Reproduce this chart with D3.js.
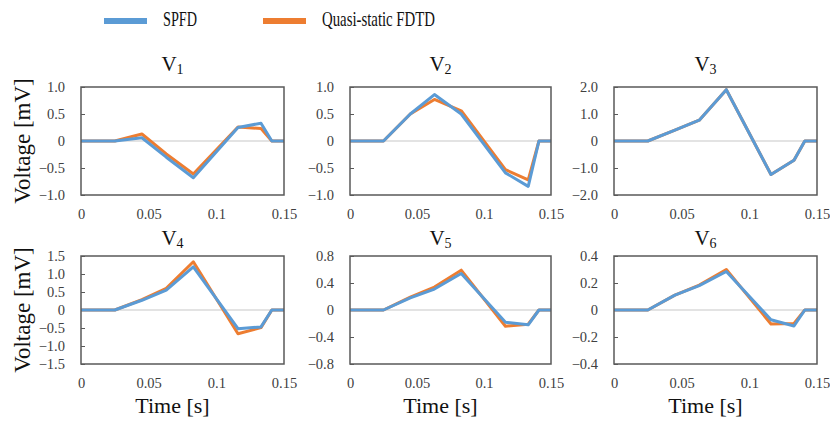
<!DOCTYPE html>
<html>
<head>
<meta charset="utf-8">
<script src="https://cdnjs.cloudflare.com/ajax/libs/d3/7.8.5/d3.min.js"></script>
<style>
  body { margin: 0; background: #fff; }
  text { font-family: "Liberation Serif", "DejaVu Serif", serif; }
</style>
</head>
<body>
<div class="chart"></div>
<script>
// sample times (s), shared by all six panels
var time = [0, 0.025, 0.045, 0.063, 0.083, 0.116, 0.133, 0.141, 0.15];

// SPFD voltages (mV)
var spfd1 = [0, 0, 0.06, -0.3, -0.68, 0.25, 0.33, 0, 0];
var spfd2 = [0, 0, 0.5, 0.86, 0.5, -0.59, -0.84, 0, 0];
var spfd3 = [0, 0, 0.4, 0.77, 1.9, -1.24, -0.71, 0, 0];
var spfd4 = [0, 0, 0.27, 0.55, 1.2, -0.52, -0.47, 0, 0];
var spfd5 = [0, 0, 0.18, 0.31, 0.54, -0.18, -0.22, 0, 0];
var spfd6 = [0, 0, 0.11, 0.18, 0.285, -0.072, -0.118, 0, 0];

// Quasi-static FDTD voltages (mV)
var fdtd1 = [0, 0, 0.13, -0.24, -0.61, 0.26, 0.23, 0, 0];
var fdtd2 = [0, 0, 0.5, 0.77, 0.56, -0.53, -0.72, 0, 0];
var fdtd3 = [0, 0, 0.4, 0.77, 1.9, -1.24, -0.71, 0, 0];
var fdtd4 = [0, 0, 0.29, 0.6, 1.34, -0.66, -0.49, 0, 0];
var fdtd5 = [0, 0, 0.19, 0.34, 0.59, -0.24, -0.21, 0, 0];
var fdtd6 = [0, 0, 0.11, 0.185, 0.3, -0.104, -0.1, 0, 0];

// axis ticks
var xTicks = [0, 0.05, 0.1, 0.15];
var yTicks1 = [-1, -0.5, 0, 0.5, 1];
var yTicks3 = [-2, -1, 0, 1, 2];
var yTicks4 = [-1.5, -1, -0.5, 0, 0.5, 1, 1.5];
var yTicks5 = [-0.8, -0.4, 0, 0.4, 0.8];
var yTicks6 = [-0.4, -0.2, 0, 0.2, 0.4];

var titles = ["1", "2", "3", "4", "5", "6"];
var seriesNames = ["SPFD", "Quasi-static FDTD"];

var panels = [
  {sub: titles[0], spfd: spfd1, fdtd: fdtd1, ticks: yTicks1, col: 0, row: 0},
  {sub: titles[1], spfd: spfd2, fdtd: fdtd2, ticks: yTicks1, col: 1, row: 0},
  {sub: titles[2], spfd: spfd3, fdtd: fdtd3, ticks: yTicks3, col: 2, row: 0},
  {sub: titles[3], spfd: spfd4, fdtd: fdtd4, ticks: yTicks4, col: 0, row: 1},
  {sub: titles[4], spfd: spfd5, fdtd: fdtd5, ticks: yTicks5, col: 1, row: 1},
  {sub: titles[5], spfd: spfd6, fdtd: fdtd6, ticks: yTicks6, col: 2, row: 1}
];

var width = 830, height = 421;
var colLeft = [81, 350, 614], colRight = [284, 551, 817];
var rowTop = [87, 256], rowBottom = [195, 364];
var titleBase = [71, 245];
var blue = "#5b9bd5", orange = "#ed7d31";

var svg = d3.select(".chart").append("svg")
  .attr("width", width)
  .attr("height", height);

var fmtY = d => d === 0 ? "0" : d3.format(".1f")(d).replace("-", "\u2212");

panels.forEach(function (p) {
  var x0 = colLeft[p.col], x1 = colRight[p.col];
  var y0 = rowTop[p.row], y1 = rowBottom[p.row];
  var yMax = d3.max(p.ticks);

  var xScale = d3.scaleLinear().domain([0, 0.15]).range([x0, x1]);
  var yScale = d3.scaleLinear().domain([-yMax, yMax]).range([y1, y0]);

  var g = svg.append("g").attr("class", "panel");

  // zero line
  g.append("line")
    .attr("x1", x0).attr("x2", x1)
    .attr("y1", yScale(0)).attr("y2", yScale(0))
    .attr("stroke", "#c8c8c8").attr("stroke-width", 1.2);

  // x axis labels (no tick marks)
  var xAxis = d3.axisBottom(xScale).tickValues(xTicks).tickSize(0).tickPadding(14)
    .tickFormat(d3.format(""));
  g.append("g")
    .attr("transform", `translate(0,${y1})`)
    .call(xAxis)
    .call(a => a.select(".domain").remove())
    .selectAll("text")
    .attr("font-size", 14.5)
    .attr("fill", "#404040")
    .style("font-family", "'Liberation Serif', serif");

  // y axis with short inward ticks
  var yAxis = d3.axisLeft(yScale).tickValues(p.ticks).tickSize(-4).tickPadding(16)
    .tickFormat(fmtY);
  var ya = g.append("g")
    .attr("transform", `translate(${x0},0)`)
    .call(yAxis);
  ya.select(".domain").remove();
  ya.selectAll("line").attr("stroke", "#595959");
  ya.selectAll("text")
    .attr("font-size", 14.5)
    .attr("fill", "#404040")
    .style("font-family", "'Liberation Serif', serif");

  var line = d3.line()
    .x((d, i) => xScale(time[i]))
    .y(d => yScale(d));

  g.append("path")
    .datum(p.fdtd)
    .attr("d", line)
    .attr("fill", "none")
    .attr("stroke", orange)
    .attr("stroke-width", 3)
    .attr("stroke-linejoin", "round");

  g.append("path")
    .datum(p.spfd)
    .attr("d", line)
    .attr("fill", "none")
    .attr("stroke", blue)
    .attr("stroke-width", 3)
    .attr("stroke-linejoin", "round");

  // plot border
  g.append("rect")
    .attr("x", x0).attr("y", y0)
    .attr("width", x1 - x0).attr("height", y1 - y0)
    .attr("fill", "none")
    .attr("stroke", "#595959")
    .attr("stroke-width", 1.5);

  // panel title, V with subscript
  var cx = (x0 + x1) / 2 - 10;
  var t = g.append("text")
    .attr("x", cx)
    .attr("y", titleBase[p.row])
    .attr("text-anchor", "middle")
    .attr("font-size", 21)
    .attr("fill", "#111");
  t.append("tspan").text("V");
  t.append("tspan").attr("font-size", 14).attr("dy", 3).text(p.sub);

  // y axis title, first column only
  if (p.col === 0) {
    g.append("text")
      .attr("text-anchor", "middle")
      .attr("transform", `translate(30,${(y0 + y1) / 2})rotate(-90)`)
      .attr("font-size", 23)
      .attr("fill", "#111")
      .text("Voltage [mV]");
  }

  // x axis title, second row only
  if (p.row === 1) {
    g.append("text")
      .attr("x", cx)
      .attr("y", 413)
      .attr("text-anchor", "middle")
      .attr("font-size", 22)
      .attr("fill", "#111")
      .text("Time [s]");
  }
});

// legend
var legendX = [104, 263], legendTextW = [34, 113];
var legend = svg.selectAll(".legend")
  .data(seriesNames)
  .enter().append("g")
  .attr("class", "legend");

legend.append("rect")
  .attr("x", (d, i) => legendX[i])
  .attr("y", 18)
  .attr("width", 43)
  .attr("height", 6)
  .attr("fill", (d, i) => i === 0 ? blue : orange);

legend.append("text")
  .attr("x", (d, i) => legendX[i] + 59)
  .attr("y", 26)
  .attr("font-size", 22)
  .attr("fill", "#111")
  .attr("textLength", (d, i) => legendTextW[i])
  .attr("lengthAdjust", "spacingAndGlyphs")
  .text(d => d);
</script>
</body>
</html>
